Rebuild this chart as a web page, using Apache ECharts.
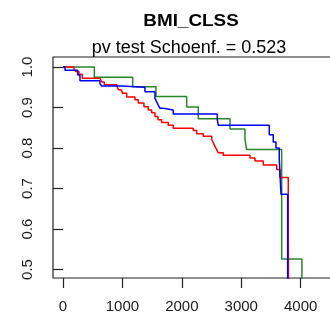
<!DOCTYPE html>
<html>
<head>
<meta charset="utf-8">
<script src="https://cdn.jsdelivr.net/npm/echarts@6/dist/echarts.min.js"></script>
<style>
  html, body { margin: 0; padding: 0; background: #ffffff; }
  #chart { width: 330px; height: 325px; }
</style>
</head>
<body>
<div id="chart"></div>
<script>
// Kaplan-Meier style survival curves by BMI class: [time, survival] after each event
const classRed = [
  [0, 1], [185, 0.995], [214, 0.989], [269, 0.982], [325, 0.972], [623, 0.968],
  [656, 0.963], [695, 0.956], [904, 0.952], [931, 0.944], [976, 0.940], [1005, 0.935],
  [1072, 0.926], [1212, 0.919], [1267, 0.911], [1363, 0.902], [1436, 0.894], [1493, 0.887],
  [1548, 0.878], [1599, 0.870], [1661, 0.863], [1772, 0.856], [1856, 0.849], [2193, 0.843],
  [2250, 0.835], [2361, 0.829], [2503, 0.821], [2530, 0.813], [2558, 0.804], [2587, 0.796],
  [2614, 0.788], [2698, 0.782], [3147, 0.775], [3231, 0.768], [3371, 0.758], [3597, 0.747],
  [3652, 0.727], [3792, 0.578], [3812, 0]
];
const classBlue = [
  [0, 1], [34, 0.992], [247, 0.980], [286, 0.966], [623, 0.959], [651, 0.953],
  [988, 0.950], [1380, 0.939], [1548, 0.923], [1577, 0.914], [1604, 0.906], [1633, 0.898],
  [1688, 0.894], [1856, 0.884], [2597, 0.870], [2614, 0.856], [3472, 0.833], [3539, 0.815],
  [3585, 0.800], [3640, 0.774], [3669, 0.686], [3782, 0]
];
const classGreen = [
  [0, 1], [527, 0.975], [1173, 0.951], [1565, 0.927], [2082, 0.901], [2277, 0.872],
  [2811, 0.847], [3063, 0.822], [3092, 0.796], [3681, 0.526], [4022, 0]
];

const xTicks = [0, 1000, 2000, 3000, 4000];
const yTicks = [0.5, 0.6, 0.7, 0.8, 0.9, 1.0];

const titleText = 'BMI_CLSS';
const subtitleText = 'pv test Schoenf. = 0.523';

const chart = echarts.init(document.getElementById('chart'), null, { renderer: 'canvas' });

function curve(name, data, color) {
  return {
    name: name,
    type: 'line',
    step: 'end',
    data: data,
    symbol: 'none',
    clip: true,
    lineStyle: { color: color, width: 1.5 },
    emphasis: { disabled: true }
  };
}

chart.setOption({
  animation: false,
  backgroundColor: '#ffffff',
  textStyle: { fontFamily: 'Liberation Sans, Arial, sans-serif' },
  graphic: [
    {
      type: 'text', x: 191, y: 22, scaleX: 1.18,
      style: {
        text: titleText, fill: '#000',
        font: 'bold 16px "Liberation Sans", Arial, sans-serif',
        align: 'center', verticalAlign: 'middle'
      }
    },
    {
      type: 'text', x: 189, y: 48,
      style: {
        text: subtitleText, fill: '#000',
        font: '18px "Liberation Sans", Arial, sans-serif',
        align: 'center', verticalAlign: 'middle'
      }
    }
  ],
  // plot box runs past the right edge of the canvas
  grid: {
    left: 53, top: 57, width: 290, bottom: 47,
    outerBoundsMode: 'none',
    containLabel: false,
    show: true, borderColor: '#222', borderWidth: 1.2, backgroundColor: 'transparent'
  },
  xAxis: {
    type: 'value',
    min: -168, max: 4713,
    axisLine: { show: false },
    splitLine: { show: false },
    axisTick: { show: true, length: 10, customValues: xTicks, lineStyle: { color: '#222', width: 1.2 } },
    axisLabel: {
      customValues: xTicks, margin: 21, fontSize: 15, color: '#1a1a1a',
      fontFamily: 'Liberation Sans, Arial, sans-serif',
      formatter: v => String(v)
    }
  },
  yAxis: {
    type: 'value',
    min: 0.479, max: 1.0247,
    axisLine: { show: false },
    splitLine: { show: false },
    axisTick: { show: true, length: 10, customValues: yTicks, lineStyle: { color: '#222', width: 1.2 } },
    axisLabel: {
      customValues: yTicks, margin: 18, fontSize: 15, rotate: 90, color: '#1a1a1a',
      fontFamily: 'Liberation Sans, Arial, sans-serif',
      formatter: v => v.toFixed(1)
    }
  },
  series: [
    curve('Class green', classGreen, '#2a852a'),
    curve('Class red', classRed, '#ff0000'),
    curve('Class blue', classBlue, '#0000ff')
  ]
});
</script>
</body>
</html>
